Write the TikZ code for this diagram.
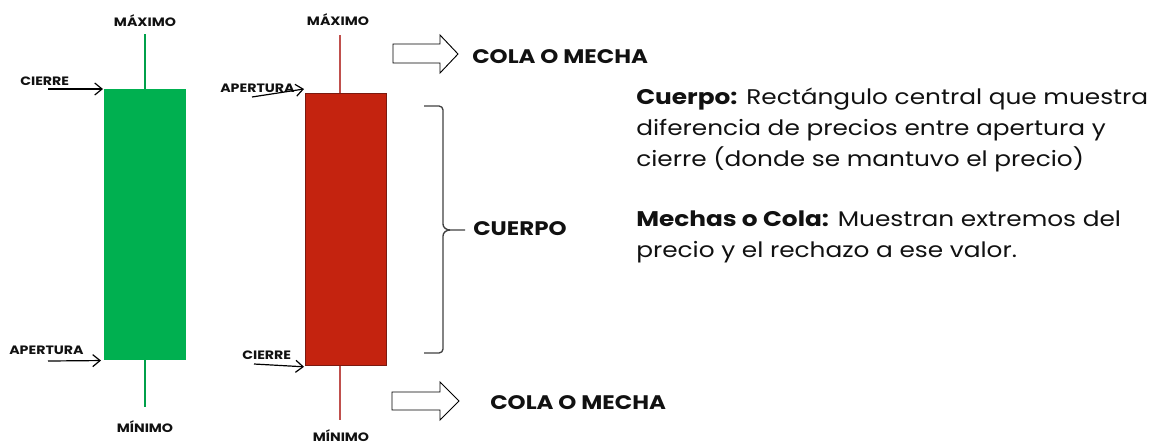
\documentclass[tikz,border=0pt]{standalone}
\usepackage{fontspec}
\setmainfont{Poppins}[FakeStretch=1.17]
\usetikzlibrary{arrows.meta}
\definecolor{cgreen}{HTML}{00B050}
\definecolor{cgreenw}{HTML}{00A04A}
\definecolor{cred}{HTML}{C4230F}
\definecolor{credb}{HTML}{7A1A10}
\definecolor{credw}{HTML}{C0504D}
\definecolor{txt}{HTML}{111111}
\tikzset{
  lbl/.style={font=\bfseries\fontsize{9.1}{10}\selectfont, text=txt, inner sep=0pt},
  big/.style={font=\bfseries\fontsize{14.7}{16}\selectfont, text=txt, inner sep=0pt, anchor=west},
  ptr/.style={draw=black, line width=0.9pt, -{Straight Barb[length=5.5pt,width=9pt,line width=0.9pt]}},
  blk/.style={draw=black, line width=0.7pt, fill=white, line join=miter},
}
\begin{document}
\begin{tikzpicture}[x=0.75pt,y=-0.75pt]
\useasboundingbox (0,0) rectangle (1152,444);
% green candle
\coordinate (gwt) at (145,34);
\coordinate (gwb) at (145,407);
\draw[cgreenw, line width=1.8pt] (gwt) -- (gwb);
\node[fill=cgreen, minimum width=82*0.75pt, minimum height=271*0.75pt, inner sep=0pt, anchor=north west] (gbody) at (104,89) {};
\node[lbl] (gmax) at (145,21) {MÁXIMO};
\node[lbl] (gmin) at (145,427) {MÍNIMO};
\node[lbl, anchor=south west] (gcl) at (20,86) {CIERRE};
\coordinate (gcls) at (48,89);
\draw[ptr] (gcls) -- ([xshift=-1*0.75pt]gbody.north west);
\node[lbl, anchor=south west] (gap) at (9,355) {APERTURA};
\coordinate (gaps) at (48,361);
\draw[ptr] (gaps) -- ([xshift=-3*0.75pt]gbody.south west);
% red candle
\coordinate (rwt) at (340,35);
\coordinate (rwb) at (340,420);
\draw[credw, line width=1.8pt] (rwt) -- (rwb);
\node[fill=cred, draw=credb, line width=0.6pt, minimum width=81*0.75pt, minimum height=272*0.75pt, inner sep=0pt, anchor=north west] (rbody) at (305,93) {};
\node[lbl] (rmax) at (338,20) {MÁXIMO};
\node[lbl] (rmin) at (341,436) {MÍNIMO};
\node[lbl, anchor=south west] (rap) at (220,93) {APERTURA};
\coordinate (raps) at (252,97);
\draw[ptr] (raps) -- ([xshift=-1*0.75pt,yshift=4*0.75pt]rbody.north west);
\node[lbl, anchor=south west] (rcl) at (242,360) {CIERRE};
\coordinate (rcls) at (254,364);
\draw[ptr] (rcls) -- ([xshift=-1*0.75pt,yshift=-1*0.75pt]rbody.south west);
% block arrows
\draw[blk] (393,44) -- (440,44) -- (440,35) -- (458,54) -- (440,73) -- (440,63) -- (393,63) -- cycle;
\node[big] (c1) at (472,57) {COLA O MECHA};
\draw[blk] (392,392) -- (440,392) -- (440,382) -- (459,401) -- (440,420) -- (440,410) -- (392,410) -- cycle;
\node[big] (c2) at (490,403) {COLA O MECHA};
% brace
\coordinate (bt) at (424,106);
\coordinate (bb) at (424,353);
\draw[black!75, line width=1pt] (bt) -- (439,106) to[out=0,in=90] (443,110) -- (443,224) to[out=-90,in=180] (450,230) -- (465,230);
\draw[black!75, line width=1pt] (bb) -- (439,353) to[out=0,in=-90] (443,349) -- (443,236) to[out=90,in=180] (450,230);
\node[big] (cu) at (473,229) {CUERPO};
% description
\node[anchor=north west, inner sep=0pt, align=left, text=txt, font=\fontsize{15.9}{23}\selectfont] (desc) at (636,88) {\textbf{Cuerpo:} Rectángulo central que muestra\\diferencia de precios entre apertura y\\cierre (donde se mantuvo el precio)\\[22.5pt]\textbf{Mechas o Cola:} Muestran extremos del\\precio y el rechazo a ese valor.};
\end{tikzpicture}
\end{document}
